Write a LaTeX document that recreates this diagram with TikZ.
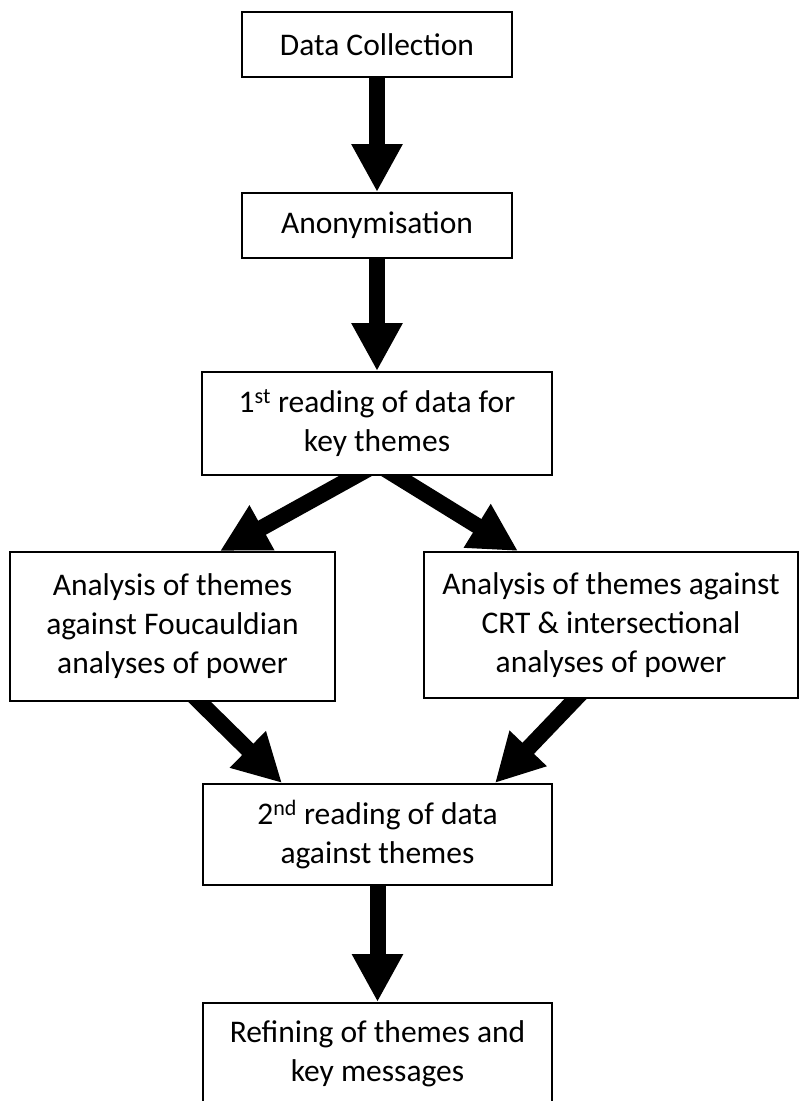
\documentclass[tikz,border=0pt]{standalone}
\usepackage{fontspec}
\setmainfont{Carlito}
\usetikzlibrary{arrows.meta,positioning,calc,backgrounds}
\tikzset{
  stage box/.style = {draw, line width=2pt, fill=white, align=center,
                      inner sep=0pt, font=\fontsize{31.5}{39}\selectfont},
  fat arr/.style   = {-{Triangle[length=48pt, width=48pt]}, line width=16pt},
}

\begin{document}
\begin{tikzpicture}[x=1pt, y=-1pt]
  \useasboundingbox (0,0) rectangle (801,1101);

  %% --- boxes -----------------------------------------------------
  \node[stage box, minimum width=270pt, minimum height=65pt] (collect)
    at (377,44.5) {Data Collection};
  \node[stage box, minimum width=270pt, minimum height=65pt] (anon)
    at (377,225.5) {Anonymisation};
  \node[stage box, minimum width=350pt, minimum height=103pt] (first)
    at (377,423.5) {1\textsuperscript{st} reading of data for\\key themes};
  \node[stage box, minimum width=325pt, minimum height=149pt] (foucault)
    at (172.5,626.5) {Analysis of themes\\against Foucauldian\\analyses of power};
  \node[stage box, minimum width=374pt, minimum height=146pt] (crt)
    at (611,625) {Analysis of themes against\\CRT \& intersectional\\analyses of power};
  \node[stage box, minimum width=349pt, minimum height=101pt] (second)
    at (377.5,834.5) {2\textsuperscript{nd} reading of data\\against themes};
  \node[stage box, minimum width=349pt, minimum height=101pt] (refine)
    at (377.5,1053.5) {Refining of themes and\\key messages};

  %% --- arrows ----------------------------------------------------
  \begin{scope}[on background layer]
    \draw[fat arr] (collect.south) -- (anon.north);
    \draw[fat arr] (anon.south) -- (first.north);
    \draw[fat arr] ($(first.south)+(0,-12)$) -- ($(foucault.north)+(47.5,0)$);
    \draw[fat arr] ($(first.south)+(0,-12)$) -- ($(crt.north)+(-93,0)$);
    \draw[fat arr] ($(foucault.south)+(17,-10)$) -- ($(second.north)+(-95.5,0)$);
    \draw[fat arr] ($(crt.south)+(-26,-10)$) -- ($(second.north)+(117.5,0)$);
    \draw[fat arr] (second.south) -- (refine.north);
  \end{scope}
\end{tikzpicture}
\end{document}
